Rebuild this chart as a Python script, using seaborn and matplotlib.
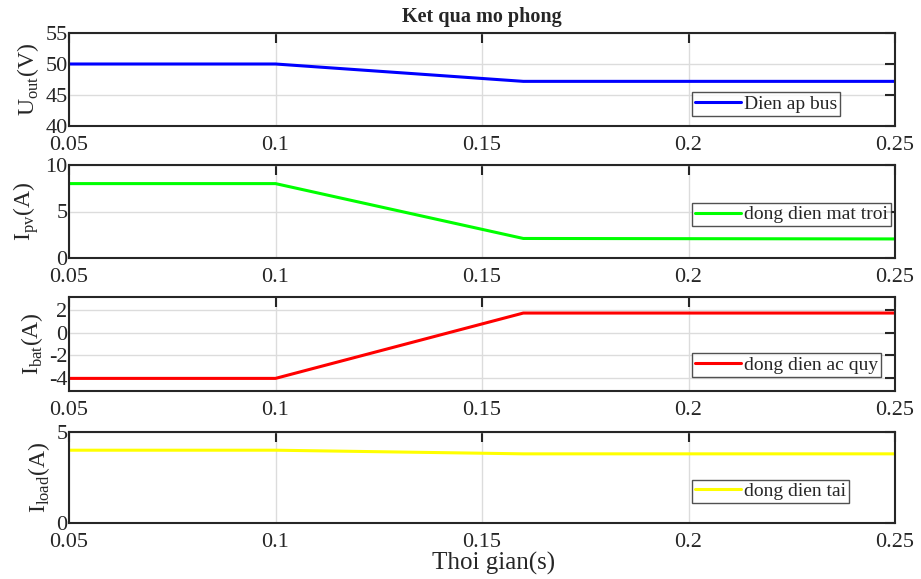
import numpy as np
import pandas as pd
import matplotlib
matplotlib.use("Agg")
import matplotlib.pyplot as plt
import seaborn as sns

sns.set_style("white")
plt.rcParams['font.family'] = ['Liberation Serif', 'DejaVu Serif']
plt.rcParams['mathtext.fontset'] = 'custom'
plt.rcParams['mathtext.rm'] = 'Liberation Serif'
plt.rcParams['axes.unicode_minus'] = False

# breakpoints of the simulation traces (time in s)
t = [0.05, 0.1, 0.16, 0.25]
u_out = [50.0, 50.0, 47.2, 47.2]
i_pv = [8.0, 8.0, 2.1, 2.05]
i_bat = [-4.0, -4.0, 1.7, 1.7]
i_load = [4.0, 4.0, 3.8, 3.8]

series = [
    (u_out, 'blue', 'Dien ap bus', r'U$_{\mathrm{out}}$(V)', (40, 55), [40, 45, 50, 55], 0.11),
    (i_pv, '#00ff00', 'dong dien mat troi', r'I$_{\mathrm{pv}}$(A)', (0, 10), [0, 5, 10], 0.34),
    (i_bat, 'red', 'dong dien ac quy', r'I$_{\mathrm{bat}}$(A)', (-5.1, 3.1), [-4, -2, 0, 2], 0.15),
    (i_load, '#ffff00', 'dong dien tai', r'I$_{\mathrm{load}}$(A)', (0, 5), [0, 5], 0.22),
]

fig = plt.figure(figsize=(9.21, 5.79), dpi=100)
tops = [33, 165, 297, 432]
bots = [126, 258, 391, 523]
W, H = 921, 579
for (vals, col, lab, ylab, ylim, yt, lb), tp, bt in zip(series, tops, bots):
    ax = fig.add_axes([69 / W, 1 - bt / H, (895 - 69) / W, (bt - tp) / H])
    df = pd.DataFrame({'t': t, 'v': vals})
    sns.lineplot(data=df, x='t', y='v', color=col, linewidth=2.2, label=lab, ax=ax)
    ax.set_xlim(0.05, 0.25)
    ax.set_ylim(*ylim)
    ax.set_xticks([0.05, 0.1, 0.15, 0.2, 0.25])
    ax.set_xticklabels(['0.05', '0.1', '0.15', '0.2', '0.25'])
    ax.set_yticks(yt)
    ax.grid(True, color='#dcdcdc', linewidth=1)
    ax.tick_params(direction='in', length=7, width=1.5, top=True, right=True,
                   labelsize=16, colors='#262626')
    ax.tick_params(axis='x', pad=7)
    ax.tick_params(axis='y', pad=1)
    for s in ax.spines.values():
        s.set_color('#262626')
        s.set_linewidth(1.5)
    ax.set_xlabel('')
    ax.set_ylabel(ylab, fontsize=17, color='#262626', labelpad=3)
    leg = ax.legend(loc='lower left', bbox_to_anchor=(0.754, lb), fontsize=14,
                    frameon=True, fancybox=False, handlelength=2.4,
                    borderpad=0.15, handletextpad=0.15, borderaxespad=0)
    leg.get_frame().set_edgecolor('#262626')
    leg.get_frame().set_linewidth(1)

fig.text(482 / W, 1 - 17 / H, 'Ket qua mo phong', ha='center', va='center',
         fontsize=14.5, fontweight='bold')
fig.text(494 / W, 1 - 563 / H, 'Thoi gian(s)', ha='center', va='center',
         fontsize=18, color='#262626')

fig.savefig('out.png', dpi=100)
